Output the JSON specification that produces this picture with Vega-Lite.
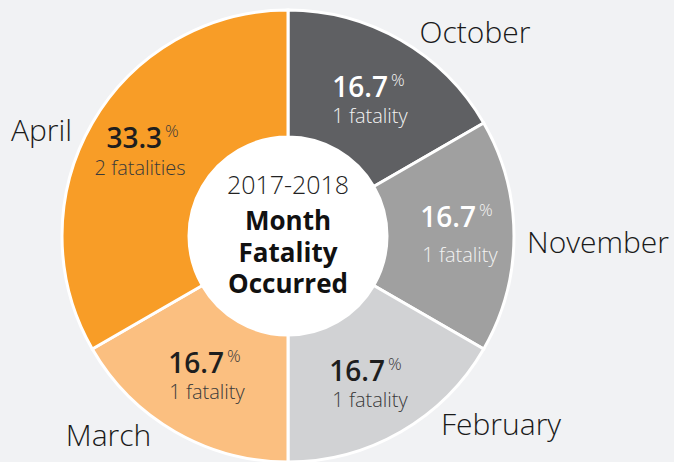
{
  "$schema": "https://vega.github.io/schema/vega-lite/v6.json",
  "width": 576,
  "height": 472,
  "autosize": {"type": "none"},
  "padding": {"left": 0, "top": 0, "right": 98, "bottom": 0},
  "background": "#f1f2f4",
  "config": {"view": {"stroke": null}, "font": "Open Sans"},
  "data": {
    "values": [
      {"month": "October", "seq": 1, "fatalities": 1, "pct": "16.7", "note": "1 fatality"},
      {"month": "November", "seq": 2, "fatalities": 1, "pct": "16.7", "note": "1 fatality"},
      {"month": "February", "seq": 3, "fatalities": 1, "pct": "16.7", "note": "1 fatality"},
      {"month": "March", "seq": 4, "fatalities": 1, "pct": "16.7", "note": "1 fatality"},
      {"month": "April", "seq": 5, "fatalities": 2, "pct": "33.3", "note": "2 fatalities"}
    ]
  },
  "layer": [
    {
      "mark": {"type": "arc", "outerRadius": 226, "innerRadius": 99, "stroke": "#ffffff", "strokeWidth": 3},
      "encoding": {
        "theta": {"field": "fatalities", "type": "quantitative", "stack": true},
        "order": {"field": "seq", "type": "quantitative"},
        "color": {
          "field": "month",
          "type": "nominal",
          "scale": {
            "domain": ["October", "November", "February", "March", "April"],
            "range": ["#5f6063", "#a0a0a0", "#d1d2d4", "#fbbf80", "#f89d27"]
          },
          "legend": null
        }
      }
    },
    {
      "data": {"values": [{"part": "hub"}]},
      "mark": {"type": "arc", "outerRadius": 99, "innerRadius": 0, "theta": 0, "theta2": 6.2832, "fill": "#ffffff"},
      "encoding": {}
    },
    {
      "mark": {
        "type": "text", "radius": 165, "align": "right", "baseline": "alphabetic",
        "fontSize": 28, "fontWeight": 600,
        "dx": {"expr": "[17.5, 23, 14.5, 18.5, 17][datum.seq - 1]"},
        "dy": {"expr": "[4, -9, 2, -6, -5.5][datum.seq - 1]"}
      },
      "encoding": {
        "theta": {"field": "fatalities", "type": "quantitative", "stack": true},
        "order": {"field": "seq", "type": "quantitative"},
        "text": {"field": "pct", "type": "nominal"},
        "color": {"condition": {"test": "datum.seq <= 2", "value": "#ffffff"}, "value": "#1e1e1e"}
      }
    },
    {
      "mark": {
        "type": "text", "radius": 165, "align": "left", "baseline": "alphabetic",
        "fontSize": 17, "fontWeight": 300,
        "dx": {"expr": "[20.5, 26, 17.5, 21.5, 20][datum.seq - 1]"},
        "dy": {"expr": "[-7, -20, -9, -17, -16.5][datum.seq - 1]"}
      },
      "encoding": {
        "theta": {"field": "fatalities", "type": "quantitative", "stack": true},
        "order": {"field": "seq", "type": "quantitative"},
        "text": {"value": "%"},
        "color": {"condition": {"test": "datum.seq <= 2", "value": "#f4f4f4"}, "value": "#3a3a3a"}
      }
    },
    {
      "mark": {
        "type": "text", "radius": 165, "align": "center", "baseline": "alphabetic",
        "fontSize": 20, "fontWeight": 300,
        "dx": {"expr": "[-0.5, 7, -0.5, 1.5, -5][datum.seq - 1]"},
        "dy": {"expr": "[30, 26, 28, 20.5, 21][datum.seq - 1]"}
      },
      "encoding": {
        "theta": {"field": "fatalities", "type": "quantitative", "stack": true},
        "order": {"field": "seq", "type": "quantitative"},
        "text": {"field": "note", "type": "nominal"},
        "color": {"condition": {"test": "datum.seq <= 2", "value": "#f2f2f2"}, "value": "#3a3a3a"}
      }
    },
    {
      "mark": {
        "type": "text", "radius": 270, "align": "center", "baseline": "alphabetic",
        "fontSize": 30, "fontWeight": 300, "color": "#1a1a1a",
        "dx": {"expr": "[52, 40, 78, -44.5, -12.7][datum.seq - 1]"},
        "dy": {"expr": "[40.8, 17, -34.8, -23.8, 40][datum.seq - 1]"}
      },
      "encoding": {
        "theta": {"field": "fatalities", "type": "quantitative", "stack": true},
        "order": {"field": "seq", "type": "quantitative"},
        "text": {"field": "month", "type": "nominal"}
      }
    },
    {
      "data": {"values": [{"part": "title"}]},
      "mark": {"type": "text", "align": "center", "baseline": "alphabetic", "fontSize": 25, "fontWeight": 300, "color": "#222222", "dy": -42},
      "encoding": {"text": {"value": "2017-2018"}}
    },
    {
      "data": {"values": [{"part": "title"}]},
      "mark": {"type": "text", "align": "center", "baseline": "alphabetic", "fontSize": 26, "fontWeight": 700, "color": "#111111", "dy": -6},
      "encoding": {"text": {"value": "Month"}}
    },
    {
      "data": {"values": [{"part": "title"}]},
      "mark": {"type": "text", "align": "center", "baseline": "alphabetic", "fontSize": 26, "fontWeight": 700, "color": "#111111", "dy": 25.5},
      "encoding": {"text": {"value": "Fatality"}}
    },
    {
      "data": {"values": [{"part": "title"}]},
      "mark": {"type": "text", "align": "center", "baseline": "alphabetic", "fontSize": 26, "fontWeight": 700, "color": "#111111", "dy": 57},
      "encoding": {"text": {"value": "Occurred"}}
    }
  ]
}
